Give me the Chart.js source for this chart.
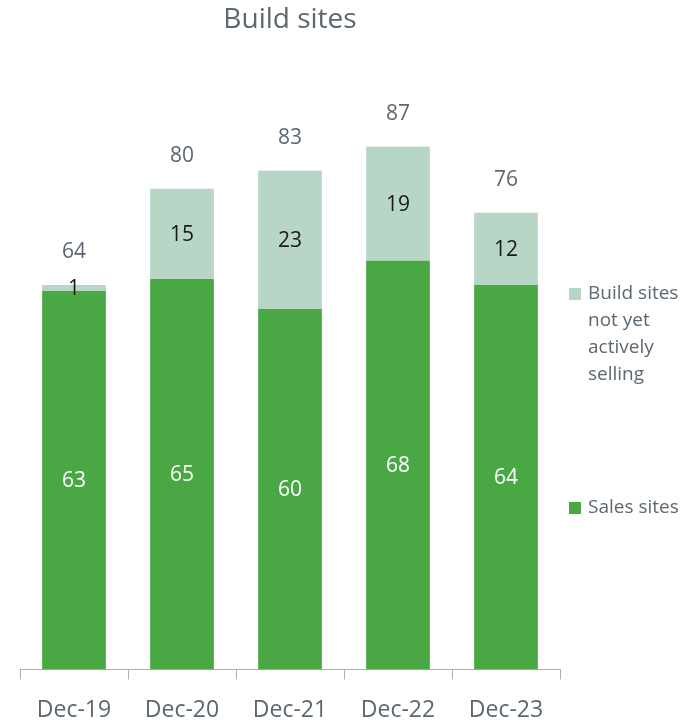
<!DOCTYPE html>
<html>
<head>
<meta charset="utf-8">
<script src="https://cdn.jsdelivr.net/npm/chart.js@4"></script>
<style>
  html, body { margin: 0; padding: 0; background: #fff; }
  #wrap { width: 692px; height: 722px; }
</style>
</head>
<body>
<div id="wrap"><canvas id="buildSites"></canvas></div>
<script>
var categories = ["Dec-19", "Dec-20", "Dec-21", "Dec-22", "Dec-23"];
var salesSites = [63, 65, 60, 68, 64];
var notSelling = [1, 15, 23, 19, 12];
var totals = [64, 80, 83, 87, 76];

var greyText = '#5b6771';
var fontName = "'Open Sans', sans-serif";

// value labels inside the bars and totals on top
var barLabels = {
    id: 'barLabels',
    afterDatasetsDraw: function (chart) {
        var ctx = chart.ctx;
        ctx.save();
        ctx.font = '21px ' + fontName;
        ctx.textAlign = 'center';
        ctx.textBaseline = 'middle';
        chart.data.datasets.forEach(function (ds, i) {
            var meta = chart.getDatasetMeta(i);
            meta.data.forEach(function (bar, j) {
                ctx.fillStyle = i == 0 ? '#ffffff' : '#1a1a1a';
                var y = (bar.y + bar.base) / 2;
                ctx.fillText(ds.data[j], bar.x, y + 1);
            });
        });
        var top = chart.getDatasetMeta(1);
        ctx.fillStyle = greyText;
        top.data.forEach(function (bar, j) {
            var y = chart.scales.y.getPixelForValue(totals[j]);
            ctx.fillText(totals[j], bar.x, y - 33);
        });
        ctx.restore();
    }
};

// legend on the right side
var sideLegend = {
    id: 'sideLegend',
    afterDraw: function (chart) {
        var ctx = chart.ctx;
        var ds = chart.data.datasets;
        ctx.save();
        ctx.font = '19px ' + fontName;
        ctx.textBaseline = 'middle';
        ctx.textAlign = 'left';
        // Build sites not yet actively selling
        ctx.fillStyle = ds[1].backgroundColor;
        ctx.fillRect(569, 288, 12, 12);
        ctx.fillStyle = greyText;
        var lines = ["Build sites", "not yet", "actively", "selling"];
        lines.forEach(function (t, k) {
            ctx.fillText(t, 588, 294 + k * 27);
        });
        // Sales sites
        ctx.fillStyle = ds[0].backgroundColor;
        ctx.fillRect(569, 502, 12, 12);
        ctx.fillStyle = greyText;
        ctx.fillText("Sales sites", 588, 508);
        ctx.restore();
    }
};

var ctx = document.getElementById("buildSites").getContext('2d');
var chart = new Chart(ctx, {
    type: 'bar',
    data: {
        labels: categories,
        datasets: [{
            label: 'Sales sites',
            data: salesSites,
            backgroundColor: '#4aa844',
            barPercentage: 0.59,
            categoryPercentage: 1
        }, {
            label: 'Build sites not yet actively selling',
            data: notSelling,
            backgroundColor: '#b8d6c6',
            barPercentage: 0.59,
            categoryPercentage: 1
        }]
    },
    options: {
        responsive: true,
        maintainAspectRatio: false,
        animation: false,
        layout: { padding: { left: 20, right: 132, top: 0, bottom: -19 } },
        plugins: {
            legend: { display: false },
            tooltip: { enabled: false },
            title: {
                display: true,
                text: 'Build sites',
                color: greyText,
                font: { family: fontName, size: 28, weight: 'normal' },
                padding: { top: 3, bottom: 32 }
            }
        },
        scales: {
            x: {
                stacked: true,
                border: { display: true, color: '#b0b0b0', width: 1 },
                grid: {
                    display: true,
                    offset: true,
                    drawOnChartArea: false,
                    drawTicks: true,
                    tickLength: 10,
                    color: '#b0b0b0'
                },
                ticks: {
                    color: greyText,
                    padding: 17,
                    maxRotation: 0,
                    font: { family: fontName, size: 23 }
                }
            },
            y: {
                stacked: true,
                display: false,
                min: 0,
                max: 100
            }
        }
    },
    plugins: [barLabels, sideLegend]
});
</script>
</body>
</html>
